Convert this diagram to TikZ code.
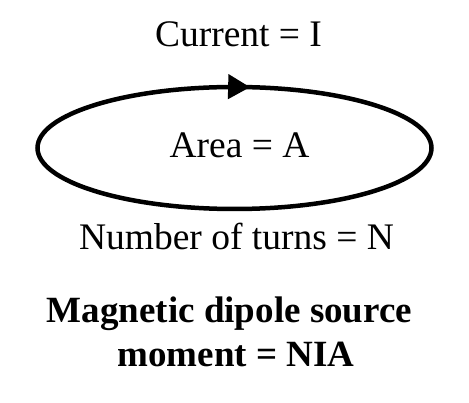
\documentclass[tikz,border=0pt]{standalone}
\usepackage{fontspec}
\setmainfont{Liberation Serif}
\usetikzlibrary{arrows.meta,decorations.markings}
\begin{document}
\begin{tikzpicture}[x=1pt,y=-1pt,
  lbl/.style={anchor=base,inner sep=0pt,font=\fontsize{37.5}{40}\selectfont},
  blbl/.style={anchor=base,inner sep=0pt,font=\fontsize{37}{40}\selectfont\bfseries},
  loop/.style={line width=4.5pt,postaction={decorate},
    decoration={markings,mark=at position 0.768 with {\arrow{Triangle[length=22pt,width=24pt]}}}}]
\useasboundingbox (0,0) rectangle (469,403);
\draw[loop] (234.5,148) ellipse [x radius=197,y radius=61];
\node[lbl] (cur) at (238.5,47) {Current = I};
\node[lbl] (area) at (239.5,158) {Area = A};
\node[lbl] (turns) at (236.5,250) {Number of turns = N};
\node[blbl] (mom1) at (229.5,323) {Magnetic dipole source};
\node[blbl] (mom2) at (236,367) {moment = NIA};
\end{tikzpicture}
\end{document}
